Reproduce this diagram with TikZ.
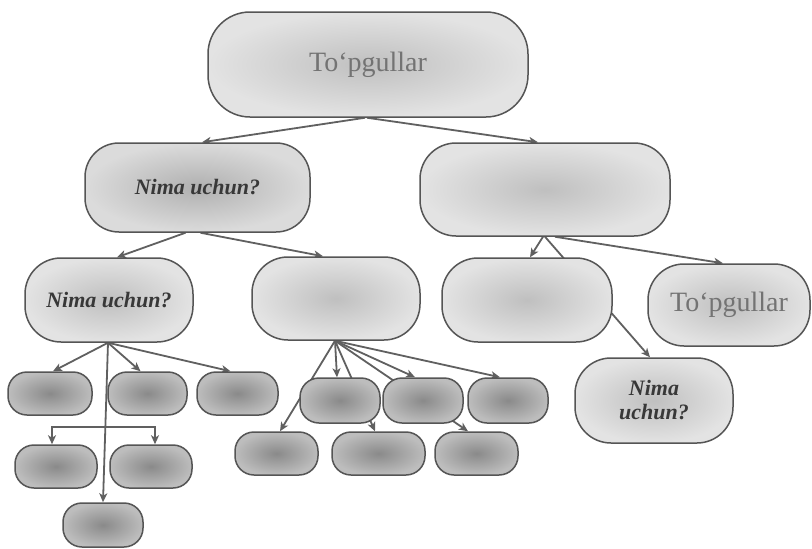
\documentclass[tikz,border=0pt]{standalone}
\usepackage{fontspec}
\setmainfont{Liberation Serif}
\usetikzlibrary{arrows.meta,backgrounds}
\definecolor{edgecol}{HTML}{606060}
\definecolor{boxline}{HTML}{555555}
\tikzset{
  pill/.style={draw=boxline, line width=1.5pt, shading=radial, inner sep=0pt},
  bigbox/.style={pill, inner color=black!25, outer color=black!11, rounded corners=36pt},
  midbox/.style={pill, inner color=black!31, outer color=black!14, rounded corners=34pt},
  smallbox/.style={pill, inner color=black!46, outer color=black!26, rounded corners=19pt},
  titletext/.style={text=black!55, font=\fontsize{28}{30}\selectfont},
  qtext/.style={text=black!78, font=\fontsize{22}{24}\selectfont\bfseries\itshape},
  conn/.style={draw=edgecol, line width=1.8pt, -{Stealth[length=9pt,width=8pt,inset=2.5pt]}},
}
\begin{document}
\begin{tikzpicture}[x=1pt,y=-1pt]
\useasboundingbox (0,0) rectangle (812,549);
% level 1
\node[bigbox, titletext, minimum width=320pt, minimum height=105pt, rounded corners=42pt] (top) at (368,64.5) {To‘pgullar};
% level 2
\node[midbox, qtext, minimum width=225pt, minimum height=89pt] (l2a) at (197.5,187.5) {Nima uchun?};
\node[bigbox, minimum width=250pt, minimum height=93pt] (l2b) at (545,189.5) {};
% level 3
\node[bigbox, qtext, minimum width=168pt, minimum height=84pt] (l3a) at (109,300) {Nima uchun?};
\node[bigbox, minimum width=168pt, minimum height=83pt] (l3b) at (336,298.5) {};
\node[bigbox, minimum width=170pt, minimum height=84pt] (l3c) at (527,300) {};
\node[bigbox, titletext, minimum width=162pt, minimum height=82pt] (l3d) at (729,305) {To‘pgullar};
\node[bigbox, qtext, align=center, minimum width=158pt, minimum height=85pt] (l4n) at (654,400.5) {Nima\\uchun?};
% left small boxes
\node[smallbox, minimum width=84pt, minimum height=43pt] (b1) at (50,393.5) {};
\node[smallbox, minimum width=79pt, minimum height=43pt] (b2) at (147.5,393.5) {};
\node[smallbox, minimum width=81pt, minimum height=43pt] (b3) at (237.5,393.5) {};
\node[smallbox, minimum width=82pt, minimum height=43pt] (b4) at (56,466.5) {};
\node[smallbox, minimum width=82pt, minimum height=43pt] (b5) at (151,466.5) {};
\node[smallbox, minimum width=80pt, minimum height=44pt] (b6) at (103,525) {};
% middle small boxes
\node[smallbox, minimum width=80pt, minimum height=45pt] (m1) at (340,400.5) {};
\node[smallbox, minimum width=80pt, minimum height=45pt] (m2) at (423,400.5) {};
\node[smallbox, minimum width=80pt, minimum height=45pt] (m3) at (508,400.5) {};
\node[smallbox, minimum width=83pt, minimum height=43pt] (m4) at (276.5,453.5) {};
\node[smallbox, minimum width=93pt, minimum height=43pt] (m5) at (378.5,453.5) {};
\node[smallbox, minimum width=83pt, minimum height=43pt] (m6) at (476.5,453.5) {};
\coordinate (j) at (105.5,427);
\begin{pgfonlayer}{background}
\fill[white] (0,0) rectangle (812,549);
\draw[conn] ([xshift=-3pt]top.south) -- ([xshift=4.5pt]l2a.north);
\draw[conn] ([xshift=-1pt]top.south) -- ([xshift=-7pt]l2b.north);
\draw[conn] ([xshift=-12pt]l2a.south) -- ([xshift=8pt]l3a.north);
\draw[conn] ([xshift=3pt]l2a.south) -- ([xshift=-13pt]l3b.north);
\draw[conn] ([xshift=-2pt]l2b.south) -- ([xshift=3pt]l3c.north);
\draw[conn] (l2b.south) -- ([xshift=-4pt]l4n.north);
\draw[conn] ([xshift=10pt]l2b.south) -- ([xshift=-6pt]l3d.north);
\draw[conn] ([xshift=-1pt]l3a.south) -- ([xshift=3pt]b1.north);
\draw[conn] ([xshift=-1pt]l3a.south) -- ([xshift=-7pt]b2.north);
\draw[conn] ([xshift=-1pt]l3a.south) -- ([xshift=-7pt]b3.north);
\draw[conn] ([xshift=-1pt]l3a.south) -- (b6.north);
\draw[conn] (j) -| ([xshift=-4pt]b4.north);
\draw[conn] (j) -| ([xshift=4pt]b5.north);
\draw[conn] ([xshift=-1pt]l3b.south) -- ([xshift=3.5pt]m4.north);
\draw[conn] ([xshift=-1pt]l3b.south) -- ([xshift=-3pt]m1.north);
\draw[conn] ([xshift=-1pt]l3b.south) -- ([xshift=-3.5pt]m5.north);
\draw[conn] ([xshift=-1pt]l3b.south) -- ([xshift=-8.5pt]m6.north);
\draw[conn] ([xshift=-1pt]l3b.south) -- ([xshift=-8pt]m2.north);
\draw[conn] ([xshift=-1pt]l3b.south) -- ([xshift=-8pt]m3.north);
\end{pgfonlayer}
\end{tikzpicture}
\end{document}
